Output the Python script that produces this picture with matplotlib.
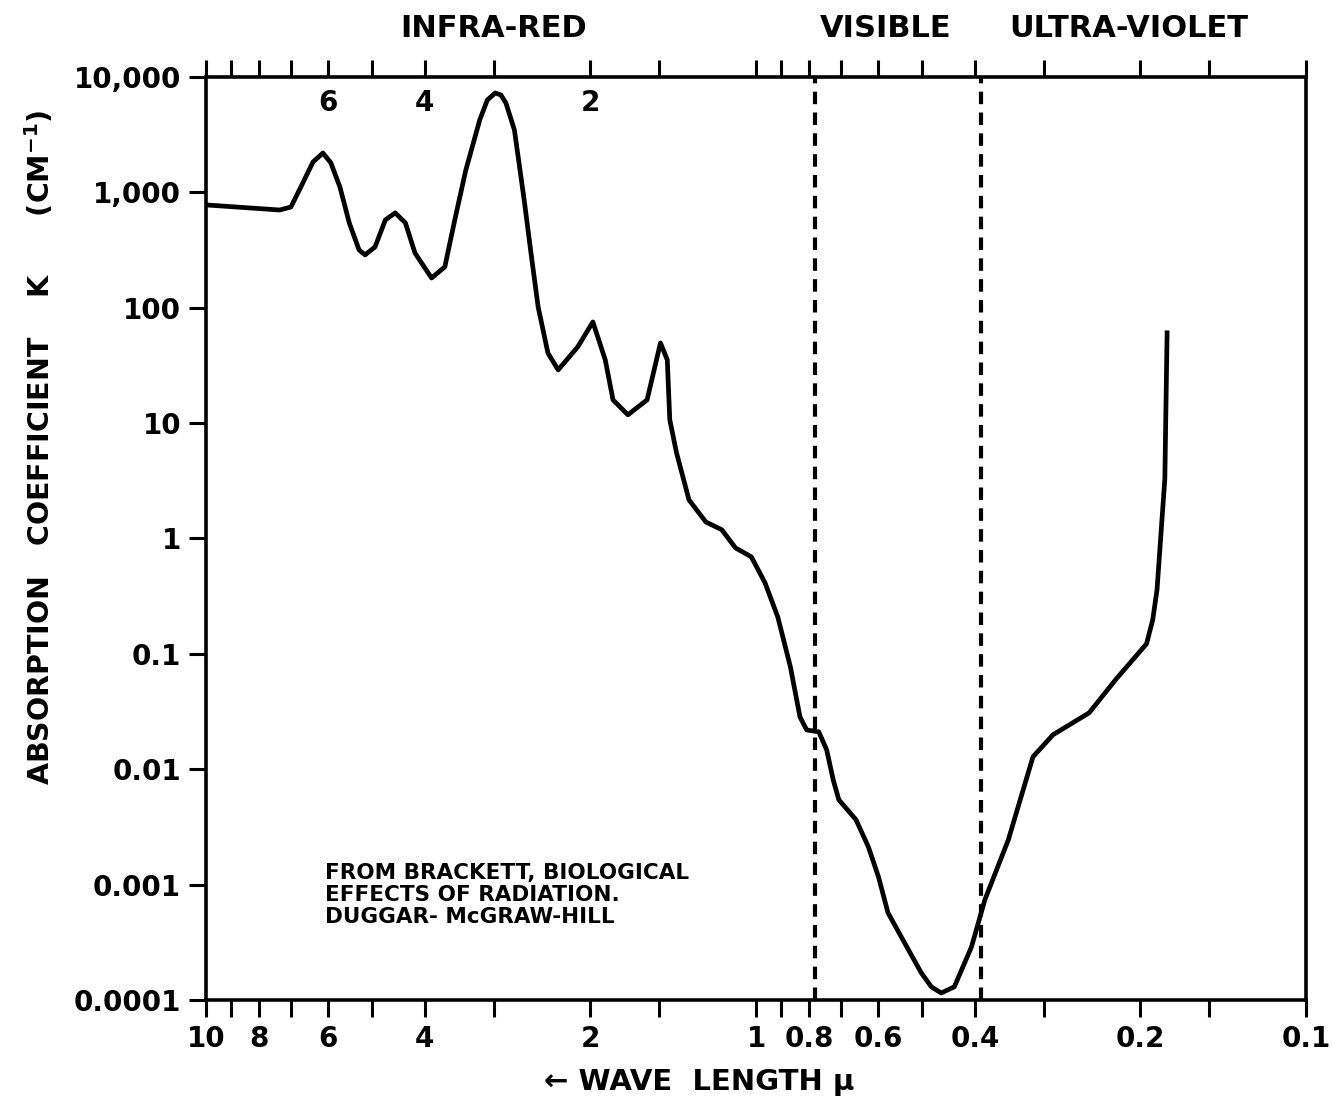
import numpy as np
import matplotlib
matplotlib.use('Agg')
import matplotlib.pyplot as plt
import matplotlib.transforms as mtransforms

# Datos: longitud de onda (micras) y coeficiente de absorcion K (cm^-1)
wavelength = [10.0, 7.35, 7.01, 6.67, 6.39, 6.13, 5.93, 5.71, 5.49, 5.27, 5.14, 4.93,
              4.72, 4.53, 4.34, 4.17, 3.89, 3.68, 3.53, 3.37, 3.18, 3.08, 2.98, 2.91,
              2.85, 2.75, 2.64, 2.57, 2.49, 2.39, 2.29, 2.11, 1.98, 1.88, 1.82, 1.71,
              1.578, 1.492, 1.45, 1.435, 1.395, 1.324, 1.234, 1.154, 1.09, 1.02, 0.963,
              0.913, 0.866, 0.832, 0.809, 0.769, 0.744, 0.724, 0.707, 0.658, 0.625, 0.599,
              0.5756, 0.537, 0.5007, 0.48, 0.4607, 0.436, 0.4057, 0.3837, 0.3478, 0.3137,
              0.2884, 0.248, 0.2213, 0.195, 0.19, 0.1866, 0.1806, 0.1789]
absorption = [778, 703, 746, 1205, 1834, 2192, 1800, 1114, 543, 317, 287, 336,
              577, 664, 543, 298, 181, 226, 577, 1563, 4236, 6320, 7264, 6980,
              5957, 3473, 859, 317, 101.6, 40.5, 28.9, 45.7, 75.3, 35.3, 15.9, 11.8,
              15.9, 49.5, 35.3, 10.7, 5.52, 2.16, 1.39, 1.19, 0.829, 0.693, 0.412,
              0.209, 0.077, 0.0284, 0.0219, 0.0211, 0.0147, 0.0081, 0.00543, 0.00365, 0.00213, 0.00117,
              0.00057, 0.000313, 0.000172, 0.00013, 0.000115, 0.00013, 0.000289, 0.000738, 0.00244, 0.0128,
              0.0199, 0.0308, 0.0607, 0.122, 0.197, 0.36, 3.28, 60.6]

# Ejes
x_ticks = [10, 9, 8, 7, 6, 5, 4, 3, 2, 1.5, 1, 0.9, 0.8, 0.7, 0.6, 0.5, 0.4, 0.3, 0.2, 0.15, 0.1]
x_labels = {10: '10', 8: '8', 6: '6', 4: '4', 2: '2', 1: '1', 0.8: '0.8', 0.6: '0.6',
            0.4: '0.4', 0.2: '0.2', 0.1: '0.1'}
y_ticks = [1e4, 1e3, 1e2, 1e1, 1, 0.1, 0.01, 0.001, 0.0001]
y_labels = ['10,000', '1,000', '100', '10', '1', '0.1', '0.01', '0.001', '0.0001']
top_numbers = [6, 4, 2]
limites_region = [0.78, 0.39]
regiones = ['INFRA-RED', 'VISIBLE', 'ULTRA-VIOLET']
regiones_x = [3.0, 0.58, 0.21]

plt.rcParams['font.family'] = ['DejaVu Sans']
plt.rcParams['font.weight'] = 'bold'
plt.rcParams['mathtext.default'] = 'bf'

fig = plt.figure(figsize=(13.32, 11.09), dpi=100)
ax = fig.add_axes([0.1547, 0.0983, 0.8258, 0.8323])

ax.plot(wavelength, absorption, color='black', lw=3.4, solid_joinstyle='round')

for x in limites_region:
    ax.axvline(x, color='black', lw=3, linestyle=(0, (3, 2)))

ax.set_xscale('log')
ax.set_yscale('log')
ax.set_xlim(10, 0.1)
ax.set_ylim(1e-4, 1e4)

ax.set_xticks(x_ticks)
ax.set_xticklabels([x_labels.get(t, '') for t in x_ticks])
ax.set_yticks(y_ticks)
ax.set_yticklabels(y_labels)
ax.minorticks_off()

ax.tick_params(axis='x', which='both', direction='out', length=12, width=2.2,
               top=True, labelsize=20, pad=6)
ax.tick_params(axis='y', direction='out', length=12, width=2.2, labelsize=20, pad=6)
for s in ax.spines.values():
    s.set_linewidth(2.6)

trans = mtransforms.blended_transform_factory(ax.transData, ax.transAxes)
for n in top_numbers:
    ax.text(n, 0.972, str(n), transform=trans, ha='center', va='center', fontsize=20)

for nombre, x in zip(regiones, regiones_x):
    ax.text(x, 1.052, nombre, transform=trans, ha='center', va='center', fontsize=22)

ax.text(0.108, 0.148, 'FROM BRACKETT, BIOLOGICAL\nEFFECTS OF RADIATION.\nDUGGAR- McGRAW-HILL',
        transform=ax.transAxes, ha='left', va='top', fontsize=15.5, linespacing=1.1)

fig.text(0.030, 0.597, 'ABSORPTION   COEFFICIENT    K      (CM$^{-1}$)', rotation=90,
         ha='center', va='center', fontsize=20.5)
fig.text(0.525, 0.024, '\u2190 WAVE  LENGTH \u03bc', ha='center', va='center', fontsize=21)

fig.savefig('out.png', dpi=100, facecolor='white')
